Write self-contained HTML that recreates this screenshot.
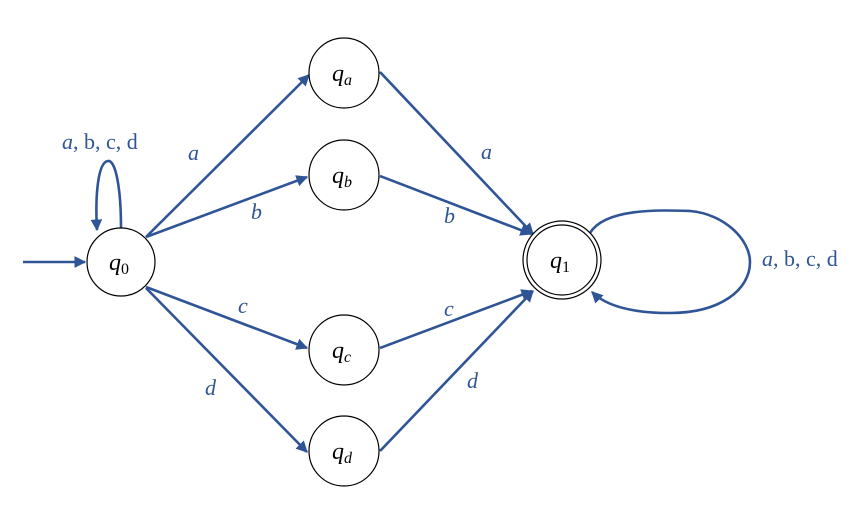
<!DOCTYPE html>
<html><head><meta charset="utf-8"><style>
html,body{margin:0;padding:0;background:#fff;}
svg{display:block;}
text{font-family:"Liberation Serif","DejaVu Serif",serif;}
</style></head><body>
<svg width="855" height="517" viewBox="0 0 855 517" xmlns="http://www.w3.org/2000/svg">
<defs>
<marker id="ar" viewBox="0 0 10 10" refX="9" refY="5" markerWidth="4.5" markerHeight="4.5" orient="auto-start-reverse" markerUnits="strokeWidth">
<path d="M0,0 L10,5 L0,10 z" fill="#2f5597"/>
</marker>
</defs>
<g stroke="#2f5597" stroke-width="2.6" fill="none">
<line x1="23" y1="262" x2="85" y2="262" marker-end="url(#ar)"/>
<path d="M121,228 C121,190 116,160 108,161 C98,162 95,195 97,230" marker-end="url(#ar)"/>
<line x1="146" y1="237" x2="309" y2="75" marker-end="url(#ar)"/>
<line x1="146" y1="237" x2="307" y2="177" marker-end="url(#ar)"/>
<line x1="146" y1="287" x2="307" y2="348" marker-end="url(#ar)"/>
<line x1="146" y1="288" x2="307" y2="452" marker-end="url(#ar)"/>
<line x1="380" y1="72" x2="533" y2="234" marker-end="url(#ar)"/>
<line x1="380" y1="176" x2="531" y2="234" marker-end="url(#ar)"/>
<line x1="380" y1="348" x2="532" y2="291" marker-end="url(#ar)"/>
<line x1="380" y1="451" x2="533" y2="291" marker-end="url(#ar)"/>
<path d="M590,233 C605,208 660,210 690,211 C725,214 750,240 750,262 C750,290 720,313 670,313 C630,313 605,305 592,292" marker-end="url(#ar)"/>
</g>
<g stroke="#000" stroke-width="1.2" fill="#fff">
<circle cx="121" cy="262" r="34"/>
<circle cx="344" cy="73" r="35"/>
<circle cx="344" cy="175" r="35"/>
<circle cx="344" cy="350" r="35"/>
<circle cx="344" cy="451" r="35"/>
<circle cx="562" cy="260" r="39"/>
<circle cx="562" cy="260" r="35"/>
</g>
<g font-size="24" fill="#000" font-style="italic">
<text x="109" y="270">q<tspan font-size="16" font-style="normal" dy="4">0</tspan></text>
<text x="332" y="81">q<tspan font-size="16" dy="4">a</tspan></text>
<text x="332" y="183">q<tspan font-size="16" dy="4">b</tspan></text>
<text x="332" y="358">q<tspan font-size="16" dy="4">c</tspan></text>
<text x="332" y="459">q<tspan font-size="16" dy="4">d</tspan></text>
<text x="550" y="268">q<tspan font-size="16" font-style="normal" dy="4">1</tspan></text>
</g>
<g font-size="22" fill="#2f5597">
<text x="62" y="149"><tspan font-style="italic">a</tspan>, b, c, d</text>
<text x="762" y="266"><tspan font-style="italic">a</tspan>, b, c, d</text>
<g font-style="italic">
<text x="188" y="160">a</text>
<text x="251" y="219">b</text>
<text x="238" y="313">c</text>
<text x="205" y="395">d</text>
<text x="481" y="159">a</text>
<text x="444" y="223">b</text>
<text x="444" y="316">c</text>
<text x="467" y="388">d</text>
</g>
</g>
</svg>
</body></html>
